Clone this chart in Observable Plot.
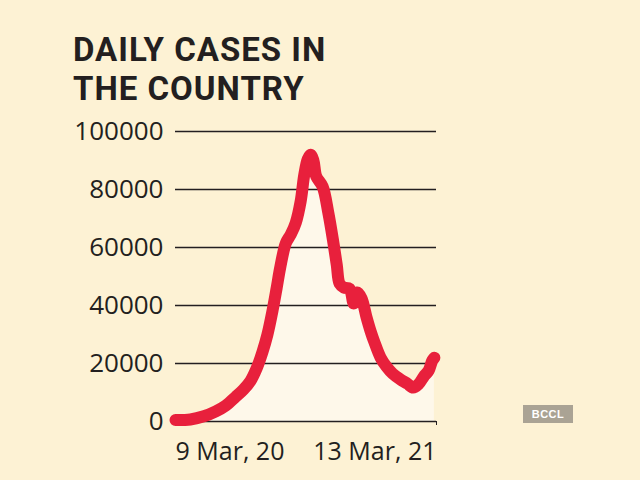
<!DOCTYPE html>
<html>
<head>
<meta charset="utf-8">
<script src="https://cdn.jsdelivr.net/npm/d3@7"></script>
<script src="https://cdn.jsdelivr.net/npm/@observablehq/plot@0.6"></script>
<style>
  html, body { margin: 0; padding: 0; background: #fdf2d4; width: 640px; height: 480px; overflow: hidden; }
  #wrap { position: relative; width: 640px; height: 480px; }
  .title { position: absolute; left: 73px; font-family: Roboto, sans-serif; font-weight: 700;
           font-size: 33px; line-height: 38px; height: 38px; color: #231f20; white-space: nowrap; letter-spacing: 1px; }
  #t1 { top: 31px; }
  #t2 { top: 70px; }
  #chart { position: absolute; left: 0; top: 112px; }
  #badge { position: absolute; left: 523px; top: 405px; width: 50px; height: 18px; background: #aaa394;
           color: #fff; font-family: "Liberation Sans", Arial, sans-serif; font-weight: 700; font-size: 11px;
           line-height: 18px; text-align: center; letter-spacing: 0.5px; }
</style>
</head>
<body>
<div id="wrap">
  <div class="title" id="t1">DAILY CASES IN</div>
  <div class="title" id="t2">THE COUNTRY</div>
  <div id="chart"></div>
  <div id="badge">BCCL</div>
</div>
<script>
const dates = [
  "2020-03-09","2020-03-30","2020-04-18","2020-05-05","2020-05-19","2020-06-02","2020-06-13","2020-06-23",
  "2020-07-02","2020-07-10","2020-07-17","2020-07-24","2020-07-30","2020-08-04","2020-08-12","2020-08-19",
  "2020-08-26","2020-09-02","2020-09-07","2020-09-12","2020-09-16","2020-09-20","2020-09-24","2020-10-03",
  "2020-10-11","2020-10-18","2020-10-23","2020-10-27","2020-11-02","2020-11-10","2020-11-16","2020-11-21",
  "2020-11-27","2020-12-04","2020-12-10","2020-12-15","2020-12-24","2021-01-01","2021-01-10","2021-01-21",
  "2021-01-31","2021-02-08","2021-02-16","2021-02-23","2021-03-02","2021-03-07","2021-03-10"
];
const cases = [
  500, 700, 1800, 3500, 5500, 8500, 11000, 14000,
  18500, 24000, 30000, 38000, 46000, 53000, 61500, 64500,
  68500, 76000, 85000, 90500, 92000, 90000, 84500, 81000,
  72000, 62000, 54000, 47500, 46200, 45800, 40700, 44500,
  42500, 36000, 31000, 27500, 22000, 19000, 16500, 14500,
  13000, 11700, 13000, 15500, 17600, 21000, 22000
];
const yTicks = [0, 20000, 40000, 60000, 80000, 100000];
const xTickDates = ["2020-03-09", "2021-03-13"];
const xTickLabels = ["9 Mar, 20", "13 Mar, 21"];

const parse = d3.utcParse("%Y-%m-%d");
const data = dates.map((d, i) => ({date: parse(d), value: cases[i]}));
const xt = xTickDates.map(parse);
const labelFor = d => xTickLabels[xt.findIndex(t => +t === +d)];

const plot = Plot.plot({
  width: 640,
  height: 368,
  marginTop: 19,
  marginBottom: 59,
  marginLeft: 175,
  marginRight: 204,
  style: {background: "transparent", fontFamily: "'Open Sans', sans-serif", color: "#231f20"},
  x: {type: "utc", domain: [xt[0], xt[1]]},
  y: {domain: [0, 100000]},
  marks: [
    Plot.areaY(data, {x: "date", y: "value", fill: "#fef8ea", curve: "catmull-rom"}),
    Plot.ruleY(yTicks, {stroke: "#231f20", strokeWidth: 1.5}),
    Plot.lineY(data, {x: "date", y: "value", stroke: "#e8203c", strokeWidth: 12,
                      strokeLinecap: "round", strokeLinejoin: "round", curve: "catmull-rom"}),
    Plot.axisY({ticks: yTicks, tickSize: 0, tickPadding: 12, fontSize: 26, tickFormat: d => String(d), label: null}),
    Plot.axisX({ticks: [xt[0]], tickSize: 0, tickPadding: 21, fontSize: 25, textAnchor: "start", tickFormat: labelFor, label: null}),
    Plot.axisX({ticks: [xt[1]], tickSize: 4, tickPadding: 17, fontSize: 25, textAnchor: "end", tickFormat: labelFor, label: null})
  ]
});
document.getElementById("chart").appendChild(plot);
</script>
</body>
</html>
